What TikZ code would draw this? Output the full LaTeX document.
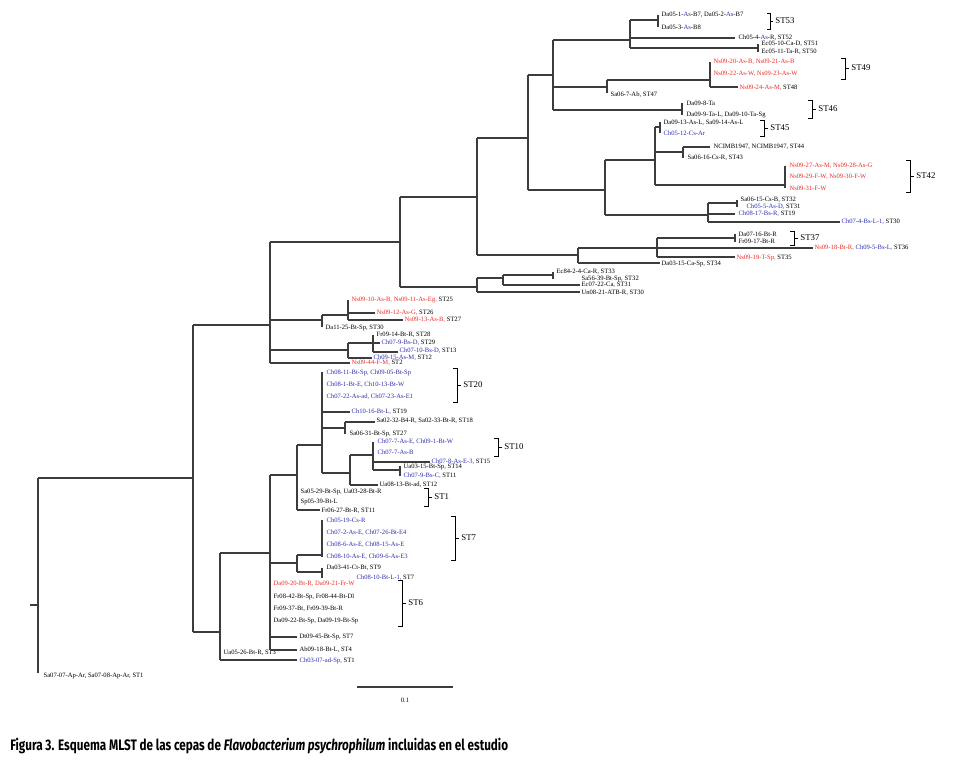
\documentclass[tikz,border=0pt]{standalone}
\usepackage{fontspec}
\setmainfont{Liberation Serif}
\newfontfamily\capfont{Fira Sans}
\usetikzlibrary{positioning}
\definecolor{strred}{RGB}{235,45,40}
\definecolor{strblue}{RGB}{45,45,175}
\definecolor{branchgray}{RGB}{60,60,60}
\tikzset{
  br/.style={draw=branchgray,line width=1.1pt},
  leaf/.style={anchor=west,inner sep=0.6pt,font=\fontsize{3.3}{4}\selectfont},
  rd/.style={leaf,text=strred},
  bl/.style={leaf,text=strblue},
  stbr/.style={draw=black,line width=0.35pt},
  stlab/.style={anchor=west,inner sep=1pt,font=\fontsize{4.4}{5}\selectfont}
}
\begin{document}
\begin{tikzpicture}[x=0.5pt,y=-0.5pt]
\useasboundingbox (0,0) rectangle (960,764);

% root
\draw[br] (30,605) -- (38,605);
\draw[br] (38,478) -- (38,673);
\draw[br] (38,478) -- (193,478);
\node[leaf] (st1o) at (42,676) {Sa07-07-Ap-Ar, Sa07-08-Ap-Ar, ST1};
\draw[br] (193,325) -- (193,632);
\draw[br] (193,325) -- (270,325);
\draw[br] (193,632) -- (220,632);

% upper clade
\draw[br] (270,242) -- (270,363);
\draw[br] (270,242) -- (400,242);
\draw[br] (270,320) -- (322,320);
\draw[br] (270,350) -- (348,350);
\draw[br] (270,363) -- (350,363);
\node[rd] (st2) at (350,363) {Ns09-44-F-M, \textcolor{black}{ST2}};

\draw[br] (322,315) -- (322,327);
\draw[br] (322,315) -- (348,315);
\draw[br] (348,300) -- (348,320);
\draw[br] (348,313) -- (375,313);
\draw[br] (348,320) -- (403,320);
\node[rd] (st25) at (350,300) {Ns09-10-As-B, Ns09-11-As-Eg, \textcolor{black}{ST25}};
\node[rd] (st26) at (375,313) {Ns09-12-As-G, \textcolor{black}{ST26}};
\node[rd] (st27) at (403,320) {Ns09-13-As-B, \textcolor{black}{ST27}};
\node[leaf] (st30a) at (324,328) {Da11-25-Bt-Sp, ST30};

\draw[br] (348,343) -- (348,358);
\draw[br] (348,343) -- (373,343);
\draw[br] (373,335) -- (373,352);
\draw[br] (373,343) -- (380,343);
\draw[br] (373,352) -- (398,352);
\draw[br] (348,358) -- (372,358);
\node[leaf] (st28) at (375,335) {Fr09-14-Bt-R, ST28};
\node[bl] (st29) at (380,343) {Ch07-9-Bs-D, \textcolor{black}{ST29}};
\node[bl] (st13) at (398,351) {Ch07-10-Bs-D, \textcolor{black}{ST13}};
\node[bl] (st12a) at (372,358) {Ch09-15-As-M, \textcolor{black}{ST12}};

\draw[br] (400,197) -- (400,287);
\draw[br] (400,197) -- (477,197);
\draw[br] (400,287) -- (477,287);
\draw[br] (477,138) -- (477,255);
\draw[br] (477,138) -- (528,138);
\draw[br] (477,255) -- (578,255);
\draw[br] (528,75) -- (528,190);
\draw[br] (528,75) -- (553,75);
\draw[br] (528,190) -- (605,190);
\draw[br] (553,40) -- (553,110);
\draw[br] (553,40) -- (630,40);
\draw[br] (553,87) -- (607,87);
\draw[br] (553,110) -- (682,110);

% ST53 .. ST50
\draw[br] (630,20) -- (630,48);
\draw[br] (630,20) -- (658,20);
\draw[br] (630,38) -- (735,38);
\draw[br] (630,48) -- (758,48);
\draw[br] (658,15) -- (658,27);
\node[leaf] (st53a) at (660,15) {Da05-1-\textcolor{strblue}{As}-B7, Da05-2-\textcolor{strblue}{As}-B7};
\node[leaf] (st53b) at (660,27) {Da05-3-\textcolor{strblue}{As}-B8};
\draw[stbr] (767,13) -- (770,13) -- (770,29) -- (767,29) (770,21) -- (773,21);
\node[stlab] (l53) at (773,21) {ST53};
\node[leaf] (st52) at (737,38) {Ch05-4-\textcolor{strblue}{As}-R, ST52};
\draw[br] (758,44) -- (758,52);
\node[leaf] (st51) at (760,44) {Ec05-10-Ca-D, ST51};
\node[leaf] (st50) at (760,52) {Ec05-11-Ta-R, ST50};

% ST49 .. ST46
\draw[br] (607,80) -- (607,93);
\draw[br] (607,80) -- (710,80);
\node[leaf] (st47) at (609,95) {Sa06-7-Ab, ST47};
\draw[br] (710,62) -- (710,87);
\draw[br] (710,87) -- (738,87);
\node[rd] (st49a) at (712,62) {Ns09-20-As-B, Ns09-21-As-B};
\node[rd] (st49b) at (712,74) {Ns09-22-As-W, Ns09-23-As-W};
\node[rd] (st48) at (738,88) {Ns09-24-As-M, \textcolor{black}{ST48}};
\draw[stbr] (841,58) -- (845,58) -- (845,79) -- (841,79) (845,68) -- (849,68);
\node[stlab] (l49) at (849,68) {ST49};
\draw[br] (682,103) -- (682,115);
\node[leaf] (st46a) at (685,103) {Da09-8-Ta};
\node[leaf] (st46b) at (685,115) {Da09-9-Ta-L, Da09-10-Ta-Sg};
\draw[stbr] (808,100) -- (812,100) -- (812,118) -- (808,118) (812,109) -- (816,109);
\node[stlab] (l46) at (816,109) {ST46};

% ST45 .. ST30
\draw[br] (605,160) -- (605,215);
\draw[br] (605,160) -- (655,160);
\draw[br] (605,215) -- (708,215);
\draw[br] (655,127) -- (655,185);
\draw[br] (655,127) -- (660,127);
\draw[br] (655,152) -- (683,152);
\draw[br] (655,185) -- (785,185);
\draw[br] (660,122) -- (660,133);
\node[leaf] (st45a) at (662,123) {Da09-13-As-L, Sa09-14-As-L};
\node[bl] (st45b) at (662,133) {Ch05-12-Cs-Ar};
\draw[stbr] (760,120) -- (764,120) -- (764,136) -- (760,136) (764,128) -- (768,128);
\node[stlab] (l45) at (768,128) {ST45};
\draw[br] (683,147) -- (683,158);
\draw[br] (683,147) -- (710,147);
\node[leaf] (st44) at (712,147) {NCIMB1947, NCIMB1947, ST44};
\node[leaf] (st43) at (686,158) {Sa06-16-Cs-R, ST43};
\draw[br] (785,166) -- (785,188);
\node[rd] (st42a) at (788,166) {Ns09-27-As-M, Ns09-28-As-G};
\node[rd] (st42b) at (788,177) {Ns09-29-F-W, Ns09-30-F-W};
\node[rd] (st42c) at (788,188) {Ns09-31-F-W};
\draw[stbr] (906,160) -- (910,160) -- (910,192) -- (906,192) (910,176) -- (914,176);
\node[stlab] (l42) at (914,176) {ST42};
\draw[br] (708,203) -- (708,222);
\draw[br] (708,203) -- (737,203);
\draw[br] (708,214) -- (735,214);
\draw[br] (708,222) -- (840,222);
\draw[br] (737,200) -- (737,207);
\node[leaf] (st32a) at (739,200) {Sa06-15-Cs-B, ST32};
\node[bl] (st31) at (745,207) {Ch05-5-As-D, \textcolor{black}{ST31}};
\node[bl] (st19a) at (737,214) {Ch08-17-Bs-R, \textcolor{black}{ST19}};
\node[bl] (st30b) at (840,222) {Ch07-4-Bs-L-1, \textcolor{black}{ST30}};

% ST37 .. ST34
\draw[br] (578,248) -- (578,263);
\draw[br] (578,248) -- (657,248);
\draw[br] (578,263) -- (660,263);
\node[leaf] (st34) at (660,264) {Da03-15-Ca-Sp, ST34};
\draw[br] (657,238) -- (657,257);
\draw[br] (657,238) -- (735,238);
\draw[br] (657,248) -- (813,248);
\draw[br] (657,257) -- (735,257);
\draw[br] (735,234) -- (735,242);
\node[leaf] (st37a) at (737,234) {Da07-16-Bt-R};
\node[leaf] (st37b) at (737,241) {Fr09-17-Bt-R};
\draw[stbr] (790,231) -- (794,231) -- (794,245) -- (790,245) (794,238) -- (798,238);
\node[stlab] (l37) at (798,238) {ST37};
\node[rd] (st36) at (813,248) {Ns09-18-Bt-R, \textcolor{strblue}{Ch09-5-Bs-L}, \textcolor{black}{ST36}};
\node[rd] (st35) at (735,258) {Ns09-19-T-Sp, \textcolor{black}{ST35}};

% ST33 .. ST30
\draw[br] (477,278) -- (477,292);
\draw[br] (477,278) -- (503,278);
\draw[br] (477,292) -- (580,292);
\draw[br] (503,275) -- (503,285);
\draw[br] (503,275) -- (553,275);
\draw[br] (503,285) -- (580,285);
\draw[br] (553,272) -- (553,279);
\node[leaf] (st33) at (555,272) {Ec84-2-4-Ca-R, ST33};
\node[leaf] (st32b) at (580,279) {Sa56-39-Bt-Sp, ST32};
\node[leaf] (st31b) at (580,285) {Ec07-22-Ca, ST31};
\node[leaf] (st30c) at (580,293) {Un08-21-ATB-R, ST30};

% lower clade
\draw[br] (220,553) -- (220,660);
\draw[br] (220,553) -- (270,553);
\draw[br] (220,660) -- (297,660);
\node[leaf] (st3) at (222,653) {Ua05-26-Bt-R, ST3};
\node[bl] (st1b) at (298,661) {Ch03-07-ad-Sp, \textcolor{black}{ST1}};
\draw[br] (270,475) -- (270,650);
\draw[br] (270,475) -- (297,475);
\draw[br] (270,563) -- (297,563);
\draw[br] (270,637) -- (297,637);
\draw[br] (270,650) -- (297,650);
\node[rd] (st6a) at (272,584) {Da09-20-Bt-R, Da09-21-Fr-W};
\node[leaf] (st6b) at (272,597) {Fr08-42-Bt-Sp, Fr08-44-Bt-Dl};
\node[leaf] (st6c) at (272,609) {Fr09-37-Bt, Fr09-39-Bt-R};
\node[leaf] (st6d) at (272,621) {Da09-22-Bt-Sp, Da09-19-Bt-Sp};
\draw[stbr] (398,580) -- (402,580) -- (402,626) -- (398,626) (402,603) -- (406,603);
\node[stlab] (l6) at (406,603) {ST6};
\node[leaf] (st7a) at (298,637) {Dt09-45-Bt-Sp, ST7};
\node[leaf] (st4) at (298,650) {Ab09-18-Bt-L, ST4};

\draw[br] (297,445) -- (297,510);
\draw[br] (297,445) -- (322,445);
\draw[br] (297,510) -- (320,510);
\node[leaf] (st1c) at (299,492) {Sa05-29-Bt-Sp, Ua03-28-Bt-R};
\node[leaf] (st1d) at (299,502) {Sp05-39-Bt-L};
\draw[stbr] (424,488) -- (428,488) -- (428,506) -- (424,506) (428,497) -- (432,497);
\node[stlab] (l1) at (432,497) {ST1};
\node[leaf] (st11a) at (320,511) {Fr06-27-Bt-R, ST11};

\draw[br] (322,372) -- (322,473);
\draw[br] (322,412) -- (350,412);
\draw[br] (322,428) -- (345,428);
\draw[br] (322,473) -- (350,473);
\node[bl] (st20a) at (325,373) {Ch08-11-Bt-Sp, Ch09-05-Bt-Sp};
\node[bl] (st20b) at (325,385) {Ch08-1-Bt-E, Ch10-13-Bt-W};
\node[bl] (st20c) at (325,397) {Ch07-22-As-ad, Ch07-23-As-E1};
\draw[stbr] (453,368) -- (457,368) -- (457,402) -- (453,402) (457,385) -- (461,385);
\node[stlab] (l20) at (461,385) {ST20};
\node[bl] (st19b) at (350,412) {Ch10-16-Bt-L, \textcolor{black}{ST19}};
\draw[br] (345,422) -- (345,434);
\draw[br] (345,422) -- (375,422);
\node[leaf] (st18) at (375,421) {Sa02-32-B4-R, Sa02-33-Bt-R, ST18};
\node[leaf] (st27b) at (348,434) {Sa06-31-Bt-Sp, ST27};
\draw[br] (350,455) -- (350,485);
\draw[br] (350,455) -- (373,455);
\draw[br] (350,485) -- (378,485);
\node[leaf] (st12b) at (378,485) {Ua08-13-Bt-ad, ST12};
\draw[br] (373,442) -- (373,470);
\draw[br] (373,462) -- (430,462);
\draw[br] (373,470) -- (400,470);
\node[bl] (st10a) at (376,442) {Ch07-7-As-E, Ch09-1-Bt-W};
\node[bl] (st10b) at (376,452) {Ch07-7-As-B};
\draw[stbr] (494,438) -- (498,438) -- (498,456) -- (494,456) (498,447) -- (502,447);
\node[stlab] (l10) at (502,447) {ST10};
\node[bl] (st15) at (430,462) {Ch07-8-As-E-3, \textcolor{black}{ST15}};
\draw[br] (400,466) -- (400,476);
\node[leaf] (st14) at (402,467) {Ua03-15-Bt-Sp, ST14};
\node[bl] (st11b) at (402,476) {Ch07-9-Bs-C, \textcolor{black}{ST11}};

\draw[br] (297,555) -- (297,572);
\draw[br] (297,555) -- (322,555);
\draw[br] (297,572) -- (322,572);
\draw[br] (322,520) -- (322,557);
\node[bl] (st7b) at (325,520) {Ch05-19-Cs-R};
\node[bl] (st7c) at (325,533) {Ch07-2-As-E, Ch07-26-Bt-E4};
\node[bl] (st7d) at (325,545) {Ch08-6-As-E, Ch08-15-As-E};
\node[bl] (st7e) at (325,557) {Ch08-10-As-E, Ch09-6-As-E3};
\draw[stbr] (451,516) -- (455,516) -- (455,560) -- (451,560) (455,538) -- (459,538);
\node[stlab] (l7) at (459,538) {ST7};
\draw[br] (322,568) -- (322,578);
\node[leaf] (st9) at (325,568) {Da03-41-Ct-Bt, ST9};
\node[bl] (st7f) at (355,578) {Ch08-10-Bt-L-1, \textcolor{black}{ST7}};

% scale bar
\draw[br,line width=0.6pt] (357,687) -- (453,687);
\node[leaf,anchor=center] (sbar) at (405,700) {0.1};

% caption
\node[anchor=west,inner sep=0pt,font=\capfont\bfseries\fontsize{7.6}{9}\selectfont,xscale=0.77] (cap) at (10,746)
  {Figura 3. Esquema MLST de las cepas de \textit{Flavobacterium psychrophilum} incluidas en el estudio};
\end{tikzpicture}
\end{document}
